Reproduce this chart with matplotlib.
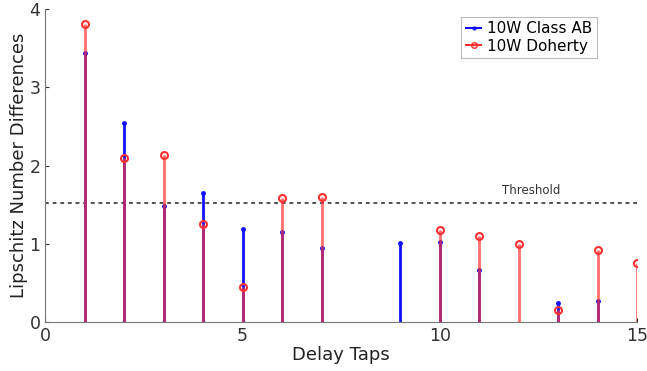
import numpy as np
import matplotlib
matplotlib.use('Agg')
from matplotlib import pyplot as plt

taps = np.arange(1, 16)
class_ab = [3.44, 2.55, 1.49, 1.65, 1.19, 1.15, 0.95, 0.0, 1.01, 1.02, 0.665, 0.0, 0.24, 0.27, 0.0]
doherty = [3.81, 2.10, 2.14, 1.26, 0.45, 1.59, 1.60, 0.0, 0.0, 1.18, 1.10, 1.0, 0.15, 0.925, 0.75]
threshold = 1.52

blue = '#1010ff'
red = '#ff3030'

fig = plt.figure(figsize=(6.47, 3.71), dpi=100)
ax = fig.add_axes([0.07, 0.132, 0.915, 0.843])

ab = np.array(class_ab)
dh = np.array(doherty)
m_ab = ab > 0
m_dh = dh > 0

# blue stems first, red ones half transparent on top -> purple overlap
ax.vlines(taps[m_ab], 0, ab[m_ab], color=blue, lw=2.0, zorder=2)
ax.plot(taps[m_ab], ab[m_ab], '.', color=blue, ms=5, zorder=2)
ax.vlines(taps[m_dh], 0, dh[m_dh], color=red, lw=2.0, alpha=0.7, zorder=3)
ax.plot(taps[m_dh], dh[m_dh], 'o', mfc='none', mec=red, mew=1.5, ms=5, zorder=4)

ax.axhline(threshold, color='#222222', ls='--', lw=1.1, dashes=(2.5, 2.5), zorder=1)
ax.text(12.3, threshold + 0.08, 'Threshold', fontsize=8.5, color='#333333',
        ha='center', va='bottom')

# legend proxies
ax.plot([], [], '-', color=blue, marker='.', ms=4, lw=1.5, label='10W Class AB')
ax.plot([], [], '-', color=red, marker='o', mfc='none', ms=4, lw=1.5, label='10W Doherty')
leg = ax.legend(loc='upper right', fontsize=11, frameon=True, fancybox=False,
                handlelength=1.0, handletextpad=0.4, borderpad=0.3,
                labelspacing=0.15, bbox_to_anchor=(0.945, 1.0))
leg.get_frame().set_edgecolor('#aaaaaa')
leg.get_frame().set_linewidth(0.8)

ax.set_xlim(0, 15)
ax.set_ylim(0, 4)
ax.set_xticks([0, 5, 10, 15])
ax.set_yticks([0, 1, 2, 3, 4])
ax.tick_params(direction='in', length=3, labelsize=12.5, colors='#333333')
for s in ['top', 'right']:
    ax.spines[s].set_visible(False)
for s in ['left', 'bottom']:
    ax.spines[s].set_color('#777777')
ax.set_xlabel('Delay Taps', fontsize=13, color='#222222', labelpad=1)
ax.set_ylabel('Lipschitz Number Differences', fontsize=13, color='#222222', labelpad=1)

plt.savefig('out.png', dpi=100)
